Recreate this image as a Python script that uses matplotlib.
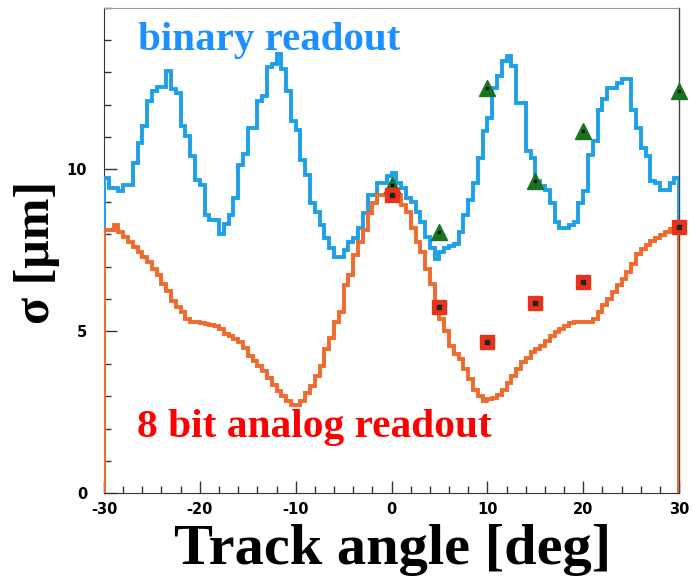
import numpy as np
import matplotlib
matplotlib.use("Agg")
import matplotlib.pyplot as plt
from matplotlib.ticker import MultipleLocator, FixedLocator

plt.rcParams["axes.unicode_minus"] = False

# ---- data -------------------------------------------------------------
bin_edges = np.arange(-30.0, 30.0001, 0.5)

binary_sigma = [
    9.73, 9.42, 9.42, 9.32, 9.53, 9.53, 10.2, 10.82, 11.33, 12.1,
    12.42, 12.55, 12.55, 13.04, 12.47, 12.37, 11.33, 11.02, 10.4, 9.68,
    9.52, 8.59, 8.43, 8.43, 8.02, 8.33, 8.59, 9.11, 10.14, 10.47,
    11.28, 11.28, 12.11, 12.27, 13.15, 13.25, 13.56, 13.09, 12.42, 11.49,
    11.23, 10.3, 9.83, 8.95, 8.7, 8.28, 7.87, 7.56, 7.3, 7.3,
    7.5, 7.76, 7.87, 8.18, 8.64, 9.21, 9.21, 9.57, 9.57, 9.8,
    9.9, 9.57, 9.42, 9.11, 9.0, 8.7, 8.39, 7.92, 7.56, 7.25,
    7.45, 7.56, 7.64, 7.7, 8.07, 8.59, 9.06, 9.57, 10.35, 11.18,
    11.59, 12.52, 12.89, 13.35, 13.51, 13.2, 12.06, 12.06, 10.56, 10.35,
    9.63, 9.5, 9.37, 8.95, 8.39, 8.18, 8.18, 8.28, 8.39, 8.95,
    9.32, 10.45, 10.87, 11.85, 12.16, 12.52, 12.52, 12.68, 12.78, 12.78,
    11.85, 11.28, 10.66, 10.4, 9.63, 9.57, 9.37, 9.37, 9.57, 9.73,
]

analog_sigma = [
    8.12, 8.12, 8.28, 8.07, 7.92, 7.76, 7.61, 7.45, 7.3, 7.14,
    6.93, 6.73, 6.47, 6.26, 5.95, 5.75, 5.59, 5.38, 5.28, 5.28,
    5.27, 5.23, 5.2, 5.17, 5.07, 4.92, 4.86, 4.75, 4.66, 4.5,
    4.24, 4.09, 3.93, 3.78, 3.57, 3.36, 3.16, 3.0, 2.85, 2.74,
    2.74, 2.85, 3.11, 3.31, 3.62, 3.93, 4.45, 4.81, 5.28, 5.6,
    6.42, 6.73, 7.35, 7.76, 8.12, 8.64, 8.95, 9.21, 9.21, 9.3,
    9.3, 9.2, 8.9, 8.7, 8.18, 7.76, 7.45, 6.93, 6.47, 5.85,
    5.38, 5.02, 4.55, 4.3, 4.14, 3.83, 3.52, 3.2, 3.0, 2.85,
    2.9, 2.95, 3.05, 3.2, 3.41, 3.62, 3.83, 4.04, 4.19, 4.35,
    4.45, 4.55, 4.71, 4.86, 4.97, 5.07, 5.17, 5.26, 5.28, 5.28,
    5.28, 5.3, 5.38, 5.59, 5.8, 6.0, 6.21, 6.42, 6.62, 6.83,
    7.09, 7.4, 7.55, 7.66, 7.78, 7.89, 7.97, 8.07, 8.15, 8.23,
]

meas_angles = [0, 5, 10, 15, 20, 30]
binary_meas = [9.52, 8.07, 12.52, 9.63, 11.18, 12.42]
analog_meas = [9.21, 5.75, 4.66, 5.87, 6.54, 8.23]

x_major = [-30, -20, -10, 0, 10, 20, 30]
y_major = [0, 5, 10]

# ---- figure -----------------------------------------------------------
fig = plt.figure(figsize=(6.93, 5.77), dpi=100)
ax = fig.add_axes([0.150, 0.145, 0.830, 0.842])

blue = "#1ea0e6"
orange = "#f06a2e"

ax.stairs(binary_sigma, bin_edges, baseline=0, color=blue, lw=2.8, zorder=3)
ax.stairs(analog_sigma, bin_edges, baseline=0, color=orange, lw=2.8, zorder=4)

ax.plot(meas_angles, binary_meas, ls="none", marker="^", ms=12,
        mfc="#17741f", mec="#17741f", zorder=6, clip_on=False)
ax.plot(meas_angles, binary_meas, ls="none", marker="o", ms=1.5,
        mfc="black", mec="black", zorder=7, clip_on=False)
ax.plot(meas_angles, analog_meas, ls="none", marker="s", ms=10,
        mfc="#e8331c", mec="#e8331c", zorder=6, clip_on=False)
ax.plot(meas_angles, analog_meas, ls="none", marker="s", ms=3,
        mfc="#222222", mec="#222222", zorder=7, clip_on=False)

ax.set_xlim(-30, 30)
ax.set_ylim(0, 15)

ax.xaxis.set_major_locator(FixedLocator(x_major))
ax.xaxis.set_minor_locator(MultipleLocator(2))
ax.yaxis.set_major_locator(FixedLocator(y_major))
ax.yaxis.set_minor_locator(MultipleLocator(1))

ax.tick_params(which="both", direction="in", top=False, right=False,
               color="#333333", width=1.0)
ax.tick_params(which="major", length=9)
ax.tick_params(which="minor", length=5)
ax.tick_params(axis="y", which="major", pad=12)
ax.tick_params(axis="x", which="major", pad=6)

for lab in ax.get_xticklabels() + ax.get_yticklabels():
    lab.set_fontfamily("DejaVu Sans")
    lab.set_fontweight("bold")
    lab.set_fontsize(10.5)

ax.spines["left"].set_color("#333333")
ax.spines["bottom"].set_color("#333333")
ax.spines["top"].set_color("#999999")
ax.spines["top"].set_linestyle((0, (1, 1)))
ax.spines["top"].set_linewidth(0.8)
ax.spines["right"].set_color("#444444")
ax.spines["right"].set_linewidth(1.0)

ax.text(-26.5, 13.7, "binary readout", color="#1e8fff",
        fontfamily="Liberation Serif", fontweight="bold", fontsize=29.5,
        ha="left", va="baseline", zorder=8)
ax.text(-26.6, 1.75, "8 bit analog readout", color="#ff0000",
        fontfamily="Liberation Serif", fontweight="bold", fontsize=29.8,
        ha="left", va="baseline", zorder=8)

fig.text(0.566, 1 - 564 / 577, "Track angle [deg]", fontfamily="Liberation Serif",
         fontweight="bold", fontsize=42, ha="center", va="baseline")
fig.text(0.053, 1 - 252 / 577, "σ [μm]", fontfamily="Liberation Serif",
         fontweight="bold", fontsize=36, rotation=90, ha="center", va="center")

fig.savefig("out.png", dpi=100)
